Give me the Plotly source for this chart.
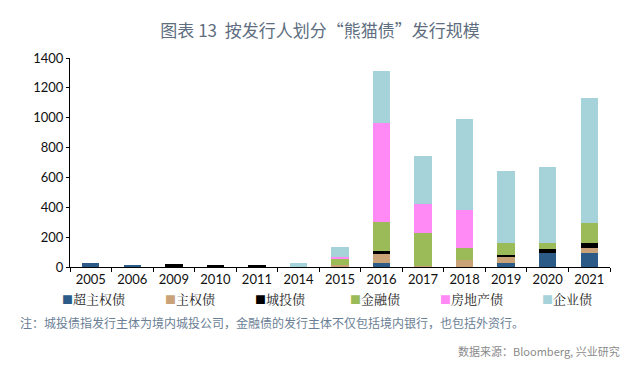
import plotly.graph_objects as go

years = ["2005", "2006", "2009", "2010", "2011", "2014", "2015", "2016", "2017", "2018", "2019", "2020", "2021"]
series_names = ["超主权债", "主权债", "城投债", "金融债", "房地产债", "企业债"]
supranational = [28, 9, 0, 0, 0, 0, 0, 25, 0, 0, 25, 96, 92]
sovereign = [0, 0, 0, 0, 0, 0, 15, 60, 10, 50, 45, 0, 34]
chengtou = [0, 0, 20, 9, 9, 0, 0, 20, 0, 0, 12, 25, 34]
financial = [0, 0, 0, 0, 0, 0, 45, 197, 221, 80, 82, 40, 138]
real_estate = [0, 0, 0, 0, 0, 0, 10, 661, 190, 251, 0, 0, 0]
corporate = [0, 0, 0, 0, 0, 25, 65, 347, 323, 611, 479, 507, 833]
y_ticks = [0, 200, 400, 600, 800, 1000, 1200, 1400]

colors = ["#2B5B86", "#C9A277", "#000000", "#9BBB59", "#FF8AF5", "#A6D3DA"]
values = [supranational, sovereign, chengtou, financial, real_estate, corporate]

fig = go.Figure()
for name, vals, col in zip(series_names, values, colors):
    fig.add_trace(go.Bar(x=years, y=vals, name=name, marker=dict(color=col, line=dict(width=0)),
                         showlegend=False))

font_main = "Lato, 'Noto Sans CJK SC', sans-serif"
fig.update_layout(
    barmode="stack",
    bargap=0.58,
    width=640, height=366,
    margin=dict(l=70, r=30, t=58, b=99),
    paper_bgcolor="white", plot_bgcolor="white",
    font=dict(family=font_main, size=13, color="#222"),
    title=dict(text="图表 13  按发行人划分“熊猫债”发行规模", x=0.5, xanchor="center", y=0.915, yanchor="middle",
               font=dict(family="'Noto Sans CJK SC', sans-serif", size=17, color="#5E6E80")),
)
fig.update_xaxes(type="category", showline=True, linecolor="#000", linewidth=1,
                 ticks="outside", tickson="boundaries", ticklen=4, tickcolor="#000",
                 tickfont=dict(size=13, color="#111"), showgrid=False)
fig.update_yaxes(range=[0, 1400], tickvals=y_ticks, showline=True, linecolor="#000", linewidth=1,
                 ticks="outside", ticklen=3, tickcolor="#000", showgrid=False, zeroline=False,
                 tickfont=dict(size=13, color="#111"))

# legend row built from series names and colours
leg_x = [60, 163, 253, 348, 438, 540]
for name, col, lx in zip(series_names, colors, leg_x):
    fig.add_annotation(xref="paper", yref="paper", x=(lx - 70) / 540, y=-(298 - 266.7) / 208.4,
                       xanchor="left", yanchor="middle", showarrow=False,
                       text=f"<span style='color:{col};font-size:11px'>■</span>{name}",
                       font=dict(family="'Noto Serif CJK SC', 'Noto Sans CJK SC', serif", size=13, color="#222"))

fig.add_annotation(xref="paper", yref="paper", x=(18 - 70) / 540, y=-(322 - 266.7) / 208.4,
                   xanchor="left", yanchor="middle", showarrow=False,
                   text="注：城投债指发行主体为境内城投公司，金融债的发行主体不仅包括境内银行，也包括外资行。",
                   font=dict(family="'Noto Sans CJK SC', sans-serif", size=12, color="#6A7E94"))
fig.add_annotation(xref="paper", yref="paper", x=(622 - 70) / 540, y=-(350 - 266.7) / 208.4,
                   xanchor="right", yanchor="middle", showarrow=False,
                   text="数据来源：Bloomberg, 兴业研究",
                   font=dict(family="'Noto Sans CJK SC', sans-serif", size=11, color="#8A8A8A"))

fig.write_html("out.html", config={"displayModeBar": False},
               post_script="document.body.style.margin='0';document.body.style.overflow='hidden';")
